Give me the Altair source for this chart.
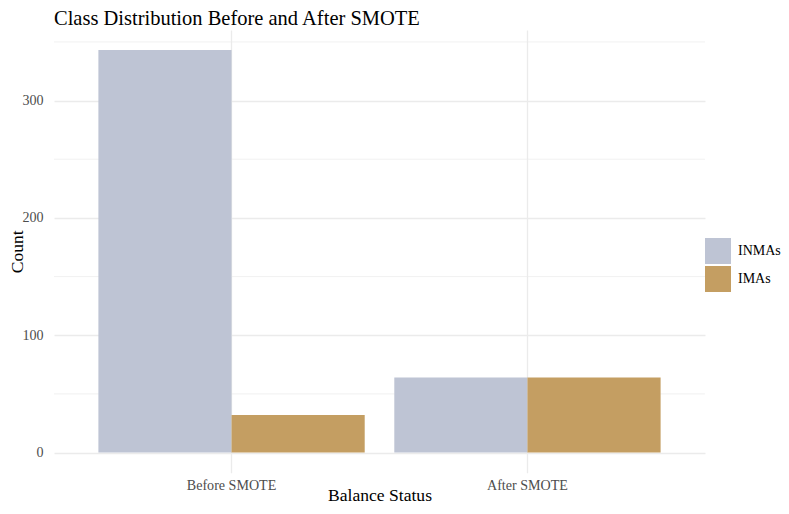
import altair as alt
import pandas as pd

statuses = ["Before SMOTE", "After SMOTE"]
classes = ["INMAs", "IMAs"]
inmas_counts = [343, 64]
imas_counts = [32, 64]
y_major_ticks = [0, 100, 200, 300]
y_minor_ticks = [50, 150, 250, 350]
colors = ["#BEC4D4", "#C49E62"]

rows = []
for s, a, b in zip(statuses, inmas_counts, imas_counts):
    rows.append({"status": s, "cls": "INMAs", "count": a})
    rows.append({"status": s, "cls": "IMAs", "count": b})
df = pd.DataFrame(rows)
minor_df = pd.DataFrame({"v": y_minor_ticks})

FONT = "Liberation Serif"
W, H = 651, 442.7
ymax = max(inmas_counts + imas_counts)
ydom = [-0.05 * ymax, ymax * 1.05]
yscale = alt.Scale(domain=ydom, nice=False, zero=False)

minor = alt.Chart(minor_df).mark_rule(color="#EBEBEB", strokeWidth=0.7).encode(
    y=alt.Y("v:Q", scale=yscale, axis=None),
    x=alt.value(0),
    x2=alt.value(W),
)

bars = alt.Chart(df).mark_bar().encode(
    x=alt.X(
        "status:N",
        sort=statuses,
        scale=alt.Scale(paddingInner=0.1, paddingOuter=0.15),
        axis=alt.Axis(
            title="Balance Status",
            labelAngle=0,
            grid=True,
            bandPosition=0.5,
            gridColor="#EBEBEB",
            gridWidth=1.3,
            domain=False,
            ticks=False,
            labelFont=FONT,
            labelFontSize=14.1,
            labelColor="#4D4D4D",
            labelPadding=6,
            titleFont=FONT,
            titleFontSize=17.6,
            titleFontWeight="normal",
            titleColor="black",
            titleBaseline="alphabetic",
            titleY=28,
        ),
    ),
    xOffset=alt.XOffset("cls:N", sort=classes, scale=alt.Scale(paddingInner=0, paddingOuter=0)),
    y=alt.Y(
        "count:Q",
        scale=yscale,
        axis=alt.Axis(
            title="Count",
            values=y_major_ticks,
            grid=True,
            gridColor="#EBEBEB",
            gridWidth=1.3,
            domain=False,
            ticks=False,
            labelFont=FONT,
            labelFontSize=14.1,
            labelColor="#4D4D4D",
            labelPadding=11,
            titleFont=FONT,
            titleFontSize=17.6,
            titleFontWeight="normal",
            titleColor="black",
            titleAngle=270,
            titleAlign="center",
            titleBaseline="middle",
            titleX=-37,
            titleY=H / 2,
        ),
    ),
    color=alt.Color(
        "cls:N",
        sort=classes,
        scale=alt.Scale(domain=classes, range=colors),
        legend=alt.Legend(
            title=None,
            orient="none",
            legendX=651,
            legendY=208,
            symbolType="square",
            symbolSize=676,
            symbolStrokeWidth=0,
            symbolOpacity=1,
            labelFont=FONT,
            labelFontSize=14,
            labelColor="black",
            labelOffset=7,
            rowPadding=2,
            padding=0,
        ),
    ),
)

chart = alt.layer(minor, bars).resolve_axis(y="independent").properties(
    width=W,
    height=H,
    autosize=alt.AutoSizeParams(type="none"),
    padding={"left": 46, "top": 22, "right": 76, "bottom": 33},
    title=alt.TitleParams(
        "Class Distribution Before and After SMOTE",
        anchor="start",
        frame="group",
        font=FONT,
        fontSize=20.5,
        fontWeight="normal",
        color="black",
        offset=0,
    ),
).configure_view(stroke=None)

chart.save("out.html", embed_options={"renderer": "svg", "actions": False})
